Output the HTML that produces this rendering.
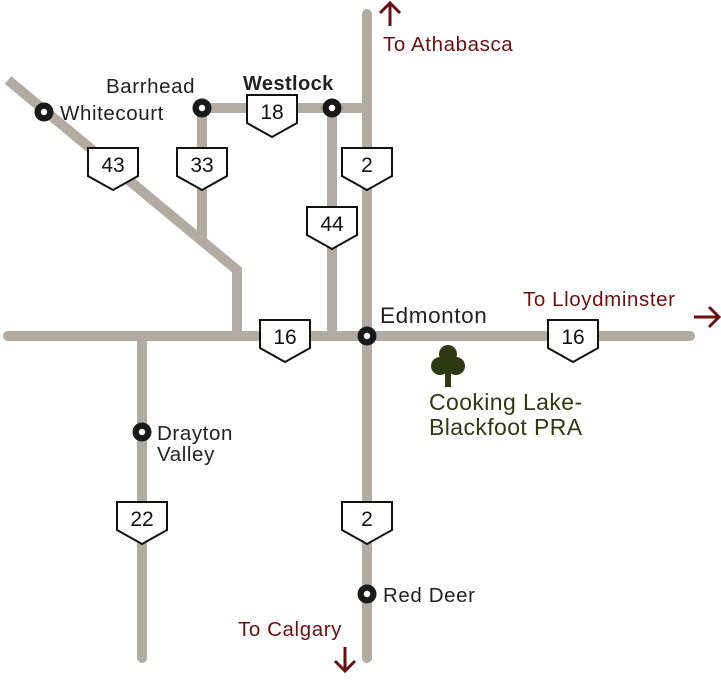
<!DOCTYPE html>
<html><head><style>body{margin:0;background:#fff}</style></head><body>
<svg width="721" height="675" xmlns="http://www.w3.org/2000/svg" font-family="Liberation Sans, sans-serif">
<defs>
<g id="sh"><polygon points="-25,0 25,0 25,28 0,42 -25,28" fill="#fff" stroke="#111" stroke-width="2"/></g>
<g id="ct"><circle r="9.5" fill="#1a1a1a"/><circle r="3.2" fill="#fff"/></g>
</defs>
<g stroke="#b3aaa2" stroke-width="10" stroke-linecap="round" fill="none">
<line x1="8" y1="336" x2="690" y2="336"/>
<line x1="367" y1="14" x2="367" y2="658"/>
<line x1="202" y1="108" x2="367" y2="108"/>
<line x1="332" y1="108" x2="332" y2="336"/>
<line x1="202" y1="108" x2="202" y2="240"/>
<polyline points="8,80 237,270 237,336" stroke-linecap="butt"/>
<line x1="142" y1="336" x2="142" y2="658"/>
</g>
<g font-size="21" text-anchor="middle" fill="#111">
<use href="#sh" x="272" y="95"/><text x="272" y="119">18</text>
<use href="#sh" x="113" y="148"/><text x="113" y="172">43</text>
<use href="#sh" x="202" y="148"/><text x="202" y="172">33</text>
<use href="#sh" x="367" y="148"/><text x="367" y="172">2</text>
<use href="#sh" x="332" y="207"/><text x="332" y="231">44</text>
<use href="#sh" x="285" y="320"/><text x="285" y="344">16</text>
<use href="#sh" x="573" y="320"/><text x="573" y="344">16</text>
<use href="#sh" x="367" y="502"/><text x="367" y="526">2</text>
<use href="#sh" x="142" y="502"/><text x="142" y="526">22</text>
</g>
<use href="#ct" x="44" y="112"/><use href="#ct" x="202" y="108"/><use href="#ct" x="332" y="108"/>
<use href="#ct" x="367" y="336"/><use href="#ct" x="142" y="432"/><use href="#ct" x="367" y="594"/>
<g font-size="20.5" fill="#222" letter-spacing="0.6">
<text x="60" y="120">Whitecourt</text>
<text x="106" y="93">Barrhead</text>
<text x="243" y="90" font-weight="bold" letter-spacing="0.4" font-size="20">Westlock</text>
<text x="380" y="323" font-size="22.5">Edmonton</text>
<text x="157" y="440">Drayton</text>
<text x="157" y="461">Valley</text>
<text x="383" y="602">Red Deer</text>
</g>
<g font-size="20.5" fill="#6b1012" letter-spacing="0.6">
<text x="383" y="51">To Athabasca</text>
<text x="523" y="306">To Lloydminster</text>
<text x="238" y="636">To Calgary</text>
</g>
<g stroke="#6b1012" stroke-width="3" fill="none">
<path d="M390 26V3M380 13L390 3L400 13"/>
<path d="M694 317H719M709 307L719 317L709 327"/>
<path d="M345 647V671M335 661L345 671L355 661"/>
</g>
<g fill="#2e3a12">
<rect x="445" y="362" width="6" height="25"/>
<circle cx="448" cy="354" r="9"/><circle cx="440" cy="366" r="9"/><circle cx="456" cy="366" r="9"/><circle cx="448" cy="364" r="8"/>
</g>
<g font-size="23" fill="#2e3a12" letter-spacing="0.4">
<text x="429" y="410">Cooking Lake-</text>
<text x="429" y="435">Blackfoot PRA</text>
</g>
</svg>
</body></html>
